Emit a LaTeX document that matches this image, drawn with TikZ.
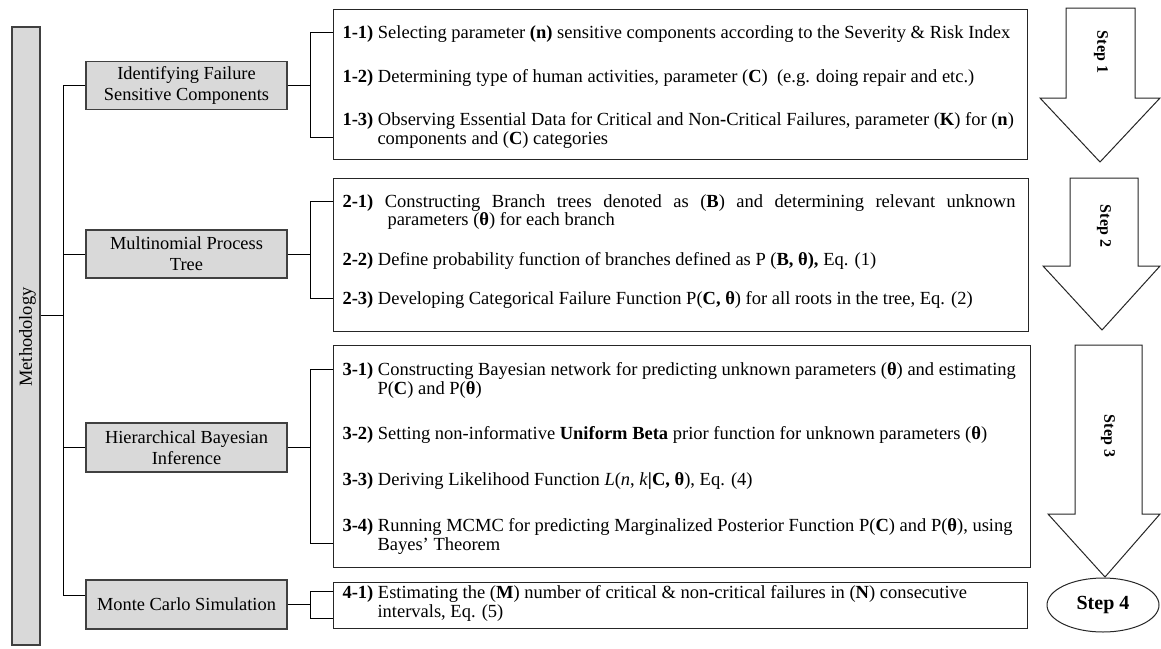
\documentclass[tikz,border=0pt]{standalone}
\usepackage{fontspec}
\setmainfont{Liberation Serif}
\usetikzlibrary{shapes.geometric}

\newcommand{\lbl}[1]{\textbf{#1}}
\newcommand{\cind}{\hspace*{35pt}}

\begin{document}
\begin{tikzpicture}[x=1pt, y=-1pt, line width=1pt,
  catbox/.style={draw=black!75, fill=black!15, line width=1.2pt, minimum width=201pt,
                 minimum height=48pt, align=center, inner sep=0pt,
                 font=\fontsize{18.4}{21}\selectfont},
  detail/.style={draw=black!85, line width=1.2pt, anchor=north west, inner sep=0pt},
  item/.style={anchor=north west, inner sep=0pt, align=left,
               font=\fontsize{18.5}{18.5}\selectfont},
  steparrow/.style={draw=black!85, line width=1pt, fill=white},
  steptext/.style={rotate=-90, font=\fontsize{16}{19}\selectfont\bfseries}]
  \useasboundingbox (0,0) rectangle (1161,648);

  % methodology bar and trunk
  \node[draw=black!75, fill=black!15, line width=1.2pt, minimum width=28pt, minimum height=618pt,
        inner sep=0pt] (meth) at (26,336) {};
  \node[rotate=90, font=\fontsize{18.4}{20}\selectfont] (methlbl) at (27.5,337) {Methodology};

  \node[catbox] (c1) at (186.5,85.5) {Identifying Failure\\Sensitive Components};
  \node[catbox] (c2) at (186.5,254) {Multinomial Process\\Tree};
  \node[catbox, minimum height=49pt] (c3) at (186.5,447.5) {Hierarchical Bayesian\\Inference};
  \node[catbox, minimum height=49pt] (c4) at (186.5,604.5) {Monte Carlo Simulation};

  \coordinate (tr) at (63,315.5);
  \coordinate (tb) at (63,595);
  \draw (tr -| meth.east) -- (tr);
  \draw (c1.west) -- (c1.west -| tb) -- (tb) -- (tb -| c4.west);
  \draw (c2.west -| tb) -- (c2.west);
  \draw (c3.west -| tb) -- (c3.west);

  % detail boxes
  \node[detail, minimum width=694pt, minimum height=150pt] (d1) at (333,9) {};
  \node[detail, minimum width=695pt, minimum height=153pt] (d2) at (333,178) {};
  \node[detail, minimum width=697pt, minimum height=222pt] (d3) at (333,345) {};
  \node[detail, minimum width=694pt, minimum height=46pt] (d4) at (333,582) {};

  \node[item] (i11) at (342,25) {\lbl{1-1)} Selecting parameter \textbf{(n)} sensitive components according to the Severity \& Risk Index};
  \node[item] (i12) at (342,68.5) {\lbl{1-2)} Determining type of human activities, parameter (\textbf{C})\ \ (e.g. doing repair and etc.)};
  \node[item] (i13) at (342,112) {\lbl{1-3)} Observing Essential Data for Critical and Non\textbf{-}Critical Failures, parameter (\textbf{K}) for (\textbf{n})\\
    \cind components and (\textbf{C}) categories};

  \node[item] (i21) at (342,194) {\makebox[673pt][s]{\lbl{2-1)} Constructing Branch trees denoted as (\textbf{B}) and determining relevant unknown}\\
    \hspace*{45pt}parameters (\textbf{θ}) for each branch};
  \node[item] (i22) at (342,251.5) {\lbl{2-2)} Define probability function of branches defined as P (\textbf{B, θ),} Eq. (1)};
  \node[item] (i23) at (342,291) {\lbl{2-3)} Developing Categorical Failure Function P(\textbf{C, θ}) for all roots in the tree, Eq. (2)};

  \node[item] (i31) at (342,362) {\lbl{3-1)} Constructing Bayesian network for predicting unknown parameters (\textbf{θ}) and estimating\\
    \cind P(\textbf{C}) and P(\textbf{θ})};
  \node[item] (i32) at (342,426) {\lbl{3-2)} Setting non-informative \textbf{Uniform Beta} prior function for unknown parameters (\textbf{θ})};
  \node[item] (i33) at (342,472) {\lbl{3-3)} Deriving Likelihood Function \textit{L}(\textit{n}, \textit{k}\textbf{|C, θ}), Eq. (4)};
  \node[item] (i34) at (342,518) {\lbl{3-4)} Running MCMC for predicting Marginalized Posterior Function P(\textbf{C}) and P(\textbf{θ}), using\\
    \cind Bayes’ Theorem};

  \node[item] (i41) at (342,585) {\lbl{4-1)} Estimating the (\textbf{M}) number of critical \& non\textbf{-}critical failures in (\textbf{N}) consecutive\\
    \cind intervals, Eq. (5)};

  % brackets
  \coordinate (b1a) at (310,32);  \coordinate (b1b) at (310,137);
  \coordinate (b2a) at (310,201); \coordinate (b2b) at (310,298);
  \coordinate (b3a) at (310,369); \coordinate (b3b) at (310,543);
  \coordinate (b4a) at (310,591); \coordinate (b4b) at (310,618);
  \draw (c1.east) -- (c1.east -| b1a);
  \draw (b1a -| d1.west) -- (b1a) -- (b1b) -- (b1b -| d1.west);
  \draw (c2.east) -- (c2.east -| b2a);
  \draw (b2a -| d2.west) -- (b2a) -- (b2b) -- (b2b -| d2.west);
  \draw (c3.east) -- (c3.east -| b3a);
  \draw (b3a -| d3.west) -- (b3a) -- (b3b) -- (b3b -| d3.west);
  \draw (c4.east) -- (c4.east -| b4a);
  \draw (b4a -| d4.west) -- (b4a) -- (b4b) -- (b4b -| d4.west);

  % step arrows
  \draw[steparrow] (1066,8) -- (1135,8) -- (1135,98) -- (1160,98) -- (1100,162)
    -- (1040,98) -- (1066,98) -- cycle;
  \draw[steparrow] (1070,178) -- (1138,178) -- (1138,266) -- (1160,266) -- (1102,330)
    -- (1043,266) -- (1070,266) -- cycle;
  \draw[steparrow] (1075,345) -- (1142,345) -- (1142,514) -- (1160,514) -- (1105,577)
    -- (1048,514) -- (1075,514) -- cycle;
  \node[steptext] (s1) at (1101,52) {Step 1};
  \node[steptext] (s2) at (1104,226) {Step 2};
  \node[steptext] (s3) at (1108,436) {Step 3};
  \node[draw=black!85, ellipse, line width=1pt, minimum width=112pt, minimum height=54pt,
        font=\fontsize{20}{22}\selectfont\bfseries] (s4) at (1103,605) {Step 4};
\end{tikzpicture}
\end{document}
